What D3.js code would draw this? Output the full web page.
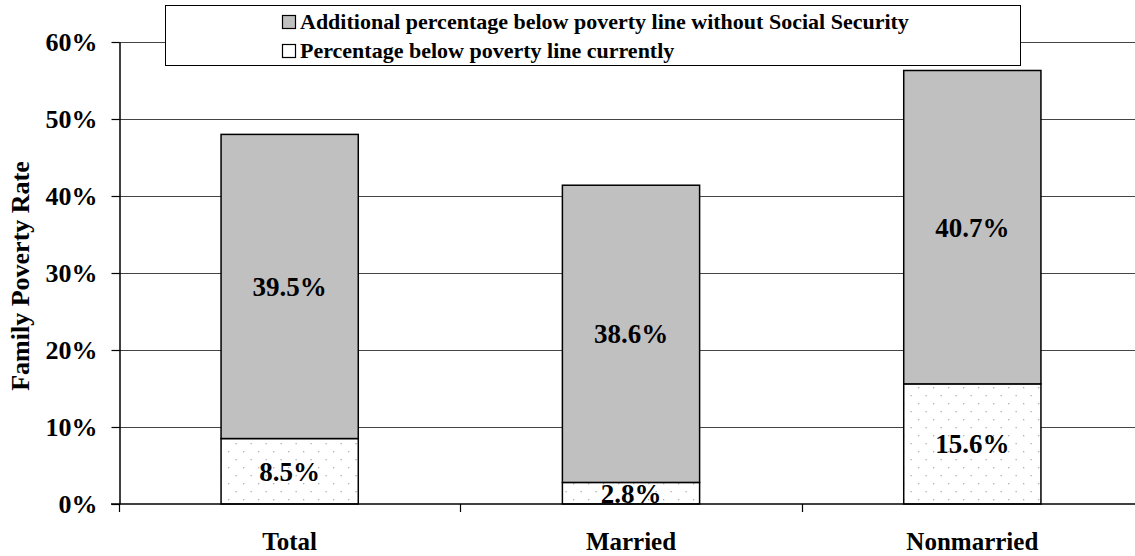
<!DOCTYPE html>
<html>
<head>
<meta charset="utf-8">
<script src="https://cdn.jsdelivr.net/npm/d3@7"></script>
<style>
  html, body { margin: 0; padding: 0; background: #fff; }
  svg { display: block; font-family: "Liberation Serif", "Times New Roman", serif; font-weight: bold; }
</style>
</head>
<body>
<svg id="chart" width="1135" height="556"></svg>
<script>
// Family poverty rates, with and without Social Security
const categories = ["Total", "Married", "Nonmarried"];
const currentRate = [8.5, 2.8, 15.6];          // percentage below poverty line currently
const additionalRate = [39.5, 38.6, 40.7];     // additional percentage without Social Security
const yTicks = [0, 10, 20, 30, 40, 50, 60];
const seriesNames = [
  "Additional percentage below poverty line without Social Security",
  "Percentage below poverty line currently"
];

const svg = d3.select("#chart");
const plotLeft = 119, plotRight = 1143, plotTop = 42, plotBottom = 504;

const x = d3.scaleBand().domain(categories).range([plotLeft, plotRight]).padding(0);
const y = d3.scaleLinear().domain([0, 60]).range([plotBottom, plotTop]);
const barW = x.bandwidth() * 0.402;

// dotted fill for the current-rate segments
const defs = svg.append("defs");
const pat = defs.append("pattern")
  .attr("id", "dots").attr("patternUnits", "userSpaceOnUse")
  .attr("width", 15).attr("height", 16);
pat.append("rect").attr("width", 15).attr("height", 16).attr("fill", "#fff");
pat.append("rect").attr("x", 3).attr("y", 3).attr("width", 1.3).attr("height", 1.3).attr("fill", "#b0b0b0");
pat.append("rect").attr("x", 10.5).attr("y", 11).attr("width", 1.3).attr("height", 1.3).attr("fill", "#b0b0b0");

// horizontal gridlines
svg.append("g").selectAll("line").data(yTicks.filter(d => d > 0)).join("line")
  .attr("x1", plotLeft).attr("x2", plotRight)
  .attr("y1", d => Math.round(y(d)) + 0.5).attr("y2", d => Math.round(y(d)) + 0.5)
  .attr("stroke", "#444").attr("stroke-width", 1);

// stacked bars
const rows = categories.map((c, i) => ({ c, cur: currentRate[i], add: additionalRate[i] }));
const g = svg.append("g");
g.selectAll("rect.cur").data(rows).join("rect").attr("class", "cur")
  .attr("x", d => x(d.c) + (x.bandwidth() - barW) / 2)
  .attr("width", barW)
  .attr("y", d => y(d.cur))
  .attr("height", d => y(0) - y(d.cur))
  .attr("fill", "url(#dots)").attr("stroke", "#000").attr("stroke-width", 1.5);
g.selectAll("rect.add").data(rows).join("rect").attr("class", "add")
  .attr("x", d => x(d.c) + (x.bandwidth() - barW) / 2)
  .attr("width", barW)
  .attr("y", d => y(d.cur + d.add))
  .attr("height", d => y(d.cur) - y(d.cur + d.add))
  .attr("fill", "#c0c0c0").attr("stroke", "#000").attr("stroke-width", 1.5);

// value labels
const lab = svg.append("g").attr("text-anchor", "middle").attr("font-size", 27).attr("fill", "#000");
lab.selectAll("text.cur").data(rows).join("text").attr("class", "cur")
  .attr("x", d => x(d.c) + x.bandwidth() / 2)
  .attr("y", d => y(d.cur / 2)).attr("dy", "0.35em")
  .text(d => d.cur.toFixed(1) + "%");
lab.selectAll("text.add").data(rows).join("text").attr("class", "add")
  .attr("x", d => x(d.c) + x.bandwidth() / 2)
  .attr("y", d => y(d.cur + d.add / 2)).attr("dy", "0.35em")
  .text(d => d.add.toFixed(1) + "%");

// y axis
const yAxis = svg.append("g").attr("transform", `translate(${plotLeft + 0.5},0)`)
  .call(d3.axisLeft(y).tickValues(yTicks).tickFormat(d => d + "%").tickSizeInner(8).tickSizeOuter(0).tickPadding(14));
yAxis.select(".domain").attr("stroke", "#000").attr("stroke-width", 1.5);
yAxis.selectAll(".tick line").attr("stroke", "#000").attr("stroke-width", 1.2);
yAxis.selectAll("text").attr("font-size", 26).attr("font-family", "Liberation Serif").attr("font-weight", "bold").attr("fill", "#000");

// x axis with ticks at category boundaries
const xAxisG = svg.append("g").attr("transform", `translate(0,${plotBottom})`);
xAxisG.append("line").attr("x1", plotLeft - 8).attr("x2", plotRight).attr("y1", 0).attr("y2", 0)
  .attr("stroke", "#000").attr("stroke-width", 1.5);
const bounds = categories.map(c => x(c)).concat([plotRight]);
xAxisG.selectAll("line.tk").data(bounds).join("line").attr("class", "tk")
  .attr("x1", d => Math.round(d) + 0.5).attr("x2", d => Math.round(d) + 0.5)
  .attr("y1", 0).attr("y2", 8).attr("stroke", "#000").attr("stroke-width", 1.2);
xAxisG.selectAll("text").data(categories).join("text")
  .attr("x", d => x(d) + x.bandwidth() / 2).attr("y", 45.5)
  .attr("text-anchor", "middle").attr("font-size", 25).attr("fill", "#000")
  .text(d => d);

// y axis title
svg.append("text")
  .attr("transform", "translate(29,276) rotate(-90)")
  .attr("text-anchor", "middle").attr("font-size", 26).attr("fill", "#000")
  .text("Family Poverty Rate");

// legend
const lg = svg.append("g");
lg.append("rect").attr("x", 165.5).attr("y", 5.5).attr("width", 855).attr("height", 60)
  .attr("fill", "#fff").attr("stroke", "#000").attr("stroke-width", 1);
const fills = ["#c0c0c0", "#fff"];
const item = lg.selectAll("g.item").data(seriesNames).join("g").attr("class", "item")
  .attr("transform", (d, i) => `translate(282,${15 + i * 29})`);
item.append("rect").attr("x", 0.5).attr("y", 0.5).attr("width", 13).attr("height", 13)
  .attr("fill", (d, i) => fills[i]).attr("stroke", "#000").attr("stroke-width", 1.2);
item.append("text").attr("x", 18).attr("y", 14).attr("font-size", 22).attr("fill", "#000")
  .text(d => d);
</script>
</body>
</html>
